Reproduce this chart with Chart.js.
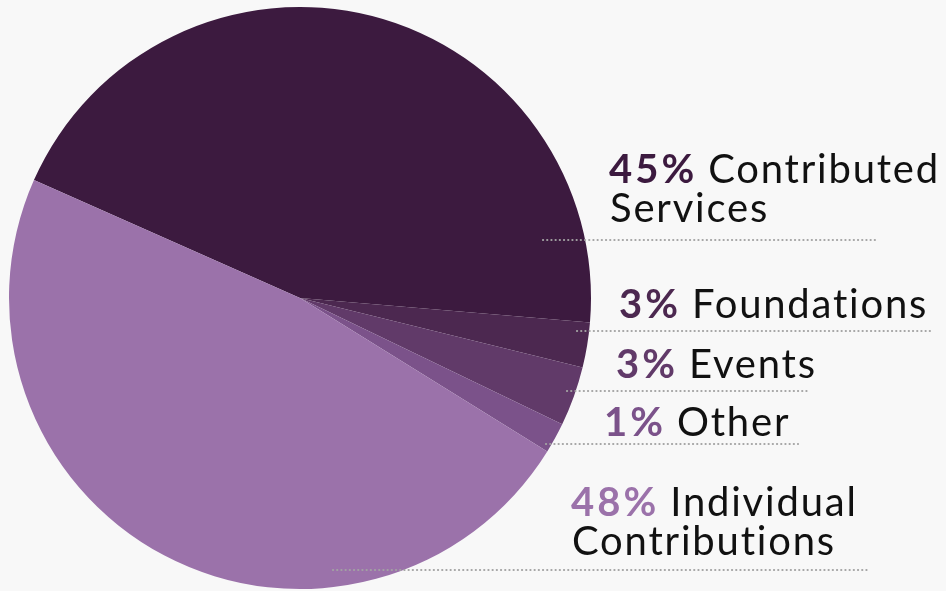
<!DOCTYPE html>
<html>
<head>
<meta charset="utf-8">
<script src="https://cdn.jsdelivr.net/npm/chart.js@4"></script>
<style>
  html,body{margin:0;padding:0;background:#f8f8f8;}
  #c{display:block;}
</style>
</head>
<body>
<canvas id="c" width="946" height="591"></canvas>
<script>
const categories = ["Contributed Services", "Foundations", "Events", "Other", "Individual Contributions"];
// slice sizes as read from the drawn wedges (labels show rounded figures)
const values = [44.7, 2.5, 3.3, 1.7, 47.8];
const sliceColors = ["#3c1a3f", "#4c2850", "#613a69", "#7b528a", "#9b72aa"];
const pctLabels = ["45%", "3%", "3%", "1%", "48%"];
const nameLines = [["Contributed", "Services"], ["Foundations"], ["Events"], ["Other"], ["Individual", "Contributions"]];

// annotation layout (text anchors and leader lines)
const labelLayout = [
  {x: 609, y: 183, lh: 39, line: [543, 876, 240]},
  {x: 619, y: 318, lh: 39, line: [577, 930, 331]},
  {x: 616, y: 378, lh: 39, line: [567, 808, 391]},
  {x: 604, y: 436, lh: 39, line: [546, 798, 444]},
  {x: 571, y: 516, lh: 39, line: [333, 868, 570]}
];
const FONT = "Lato, 'Open Sans', sans-serif";
const FS = 40;

const labelPlugin = {
  id: 'sideLabels',
  afterDraw(chart) {
    const ctx = chart.ctx;
    ctx.save();
    labelLayout.forEach((L, i) => {
      // dotted leader
      ctx.strokeStyle = '#a3a3a3';
      ctx.lineWidth = 2.2;
      ctx.lineCap = 'round';
      ctx.setLineDash([0.1, 4.1]);
      ctx.beginPath();
      ctx.moveTo(L.line[0], L.line[2]);
      ctx.lineTo(L.line[1], L.line[2]);
      ctx.stroke();
      ctx.setLineDash([]);
      // text
      ctx.textBaseline = 'alphabetic';
      ctx.textAlign = 'left';
      ctx.font = `700 ${FS}px ${FONT}`;
      ctx.letterSpacing = '3px';
      ctx.fillStyle = sliceColors[i];
      const pct = pctLabels[i];
      ctx.fillText(pct, L.x, L.y);
      const pw = ctx.measureText(pct).width;
      ctx.font = `400 ${FS}px ${FONT}`;
      ctx.letterSpacing = '1.8px';
      ctx.fillStyle = '#111111';
      const lines = nameLines[i];
      ctx.fillText(lines[0], L.x + pw + 11, L.y);
      for (let k = 1; k < lines.length; k++) {
        ctx.fillText(lines[k], L.x + 1, L.y + L.lh * k);
      }
    });
    ctx.restore();
  }
};

new Chart(document.getElementById('c'), {
  type: 'pie',
  data: {
    labels: categories,
    datasets: [{
      data: values,
      backgroundColor: sliceColors,
      borderWidth: 0
    }]
  },
  options: {
    responsive: false,
    animation: false,
    rotation: 293.9,
    layout: {padding: {left: 9, right: 355, top: 7, bottom: 2}},
    plugins: {legend: {display: false}, tooltip: {enabled: false}}
  },
  plugins: [labelPlugin]
});
</script>
</body>
</html>
